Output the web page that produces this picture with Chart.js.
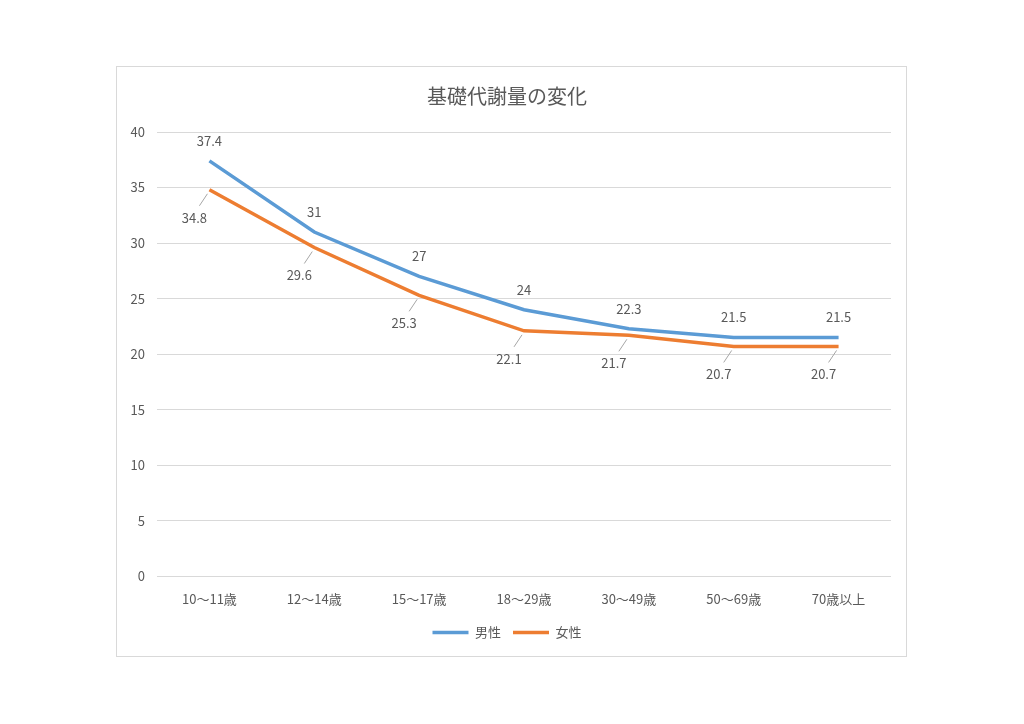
<!DOCTYPE html>
<html>
<head>
<meta charset="utf-8">
<script src="https://cdn.jsdelivr.net/npm/chart.js@4"></script>
<style>
  body { margin: 0; background: #fff; }
  #box { position: absolute; left: 116px; top: 66px; width: 789px; height: 589px; border: 1px solid #d9d9d9; }
</style>
</head>
<body>
<div id="box"><canvas id="chart"></canvas></div>
<script>
// 年齢区分とデータ
const kategorien = ['10〜11歳', '12〜14歳', '15〜17歳', '18〜29歳', '30〜49歳', '50〜69歳', '70歳以上'];
const maenner = [37.4, 31, 27, 24, 22.3, 21.5, 21.5];
const frauen = [34.8, 29.6, 25.3, 22.1, 21.7, 20.7, 20.7];
const yTicks = [0, 5, 10, 15, 20, 25, 30, 35, 40];

const schrift = '"Noto Sans CJK JP", "Noto Sans", sans-serif';
const grau = '#595959';

// Datenbeschriftungen zeichnen (Männer oben, Frauen unten mit Linie)
const labelPlugin = {
  id: 'werte',
  afterDatasetsDraw(chart) {
    const ctx = chart.ctx;
    ctx.save();
    ctx.font = '13px ' + schrift;
    ctx.fillStyle = grau;
    ctx.textAlign = 'center';
    ctx.textBaseline = 'middle';
    chart.getDatasetMeta(0).data.forEach((p, i) => {
      ctx.fillText(String(maenner[i]), p.x, p.y - 20);
    });
    chart.getDatasetMeta(1).data.forEach((p, i) => {
      const lx = p.x - 15, ly = p.y + 28;
      ctx.strokeStyle = '#a6a6a6';
      ctx.lineWidth = 1;
      ctx.beginPath();
      ctx.moveTo(p.x - 2, p.y + 4);
      ctx.lineTo(lx + 5, ly - 12);
      ctx.stroke();
      ctx.fillText(String(frauen[i]), lx, ly);
    });
    ctx.restore();
  }
};

new Chart(document.getElementById('chart'), {
  type: 'line',
  data: {
    labels: kategorien,
    datasets: [
      { label: '男性', data: maenner, borderColor: '#5b9bd5', backgroundColor: '#5b9bd5', borderWidth: 3.5, pointRadius: 0, pointStyle: 'line', tension: 0 },
      { label: '女性', data: frauen, borderColor: '#ed7d31', backgroundColor: '#ed7d31', borderWidth: 3.5, pointRadius: 0, pointStyle: 'line', tension: 0 }
    ]
  },
  options: {
    responsive: true,
    maintainAspectRatio: false,
    animation: false,
    layout: { padding: { left: 6, right: 15, top: 0, bottom: 7 } },
    plugins: {
      title: {
        display: true,
        text: '基礎代謝量の変化',
        color: grau,
        font: { family: schrift, size: 20, weight: 'normal' },
        padding: { top: 17, bottom: 24 }
      },
      legend: {
        position: 'bottom',
        labels: {
          usePointStyle: true,
          pointStyleWidth: 36,
          color: grau,
          font: { family: schrift, size: 13 },
          padding: 12
        }
      },
      tooltip: { enabled: false }
    },
    scales: {
      x: {
        offset: true,
        grid: { display: false },
        border: { display: false },
        ticks: { color: grau, font: { family: schrift, size: 13 }, padding: 7, maxRotation: 0 }
      },
      y: {
        min: 0,
        max: 40,
        afterBuildTicks(scale) { scale.ticks = yTicks.map(v => ({ value: v })); },
        afterFit(scale) { scale.width = 34; },
        grid: { color: '#d9d9d9', drawTicks: false },
        border: { display: false },
        ticks: { color: grau, font: { family: schrift, size: 13 }, padding: 12 }
      }
    }
  },
  plugins: [labelPlugin]
});
</script>
</body>
</html>
